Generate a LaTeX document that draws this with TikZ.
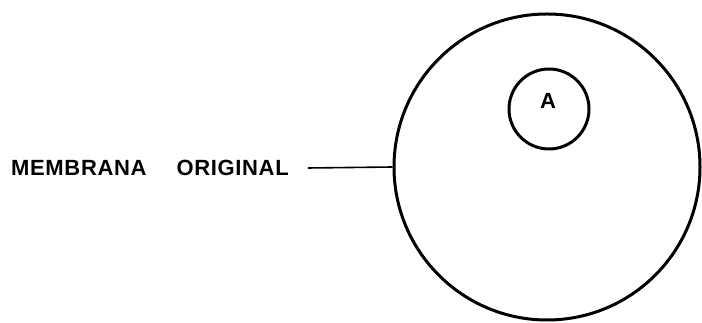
\documentclass[tikz,border=0pt]{standalone}
\usepackage{fontspec}
\setmainfont{Liberation Sans}
\usetikzlibrary{positioning}

\tikzset{
  rotulo/.style={font=\bfseries\fontsize{22}{22}\selectfont\addfontfeatures{LetterSpace=3},inner sep=0pt},
  contorno/.style={draw=black,line width=3pt,circle,inner sep=0pt}
}

\begin{document}
\begin{tikzpicture}[x=1pt,y=1pt]
\useasboundingbox (0,0) rectangle (702,323);

% celula e vesicula
\node[contorno,minimum size=306pt] (membrana) at (547,156) {};
\node[contorno,minimum size=80pt] (vesicula) at (549,214) {};
\node[rotulo] (letraA) at (548,222) {A};

% legenda
\node[rotulo,anchor=west] (nome) at (11,155) {MEMBRANA\hspace{30pt}ORIGINAL};
\draw[line width=1.6pt] ([xshift=19pt]nome.east) -- (membrana.west);

\end{tikzpicture}
\end{document}
